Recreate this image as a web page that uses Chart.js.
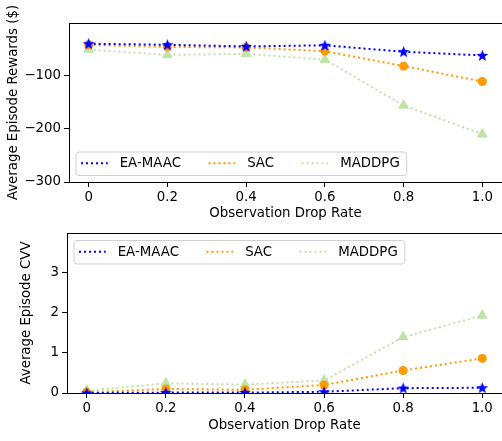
<!DOCTYPE html>
<html>
<head>
<meta charset="utf-8">
<script src="https://cdn.jsdelivr.net/npm/chart.js@4"></script>
<style>
  body { margin: 0; background: #fff; }
  #wrap { position: relative; width: 502px; height: 441px; }
  #rewardChart { position: absolute; left: 0; top: 0; }
  #cvvChart { position: absolute; left: 0; top: 220px; }
</style>
</head>
<body>
<div id="wrap">
  <canvas id="rewardChart" width="502" height="220"></canvas>
  <canvas id="cvvChart" width="502" height="221"></canvas>
</div>
<script>
const dropRates = [0, 0.2, 0.4, 0.6, 0.8, 1.0];
const xTickLabels = ["0", "0.2", "0.4", "0.6", "0.8", "1.0"];
const seriesNames = ["EA-MAAC", "SAC", "MADDPG"];

const rewardEaMaac = [-40, -42, -45, -43, -55, -62];
const rewardSac = [-42, -46, -47, -54, -82, -111];
const rewardMaddpg = [-51, -61, -59, -70, -156, -210];
const rewardTicks = [-300, -200, -100];

const cvvEaMaac = [0.0, 0.01, 0.01, 0.03, 0.12, 0.13];
const cvvSac = [0.02, 0.1, 0.08, 0.2, 0.56, 0.86];
const cvvMaddpg = [0.06, 0.24, 0.21, 0.31, 1.39, 1.93];
const cvvTicks = [0, 1, 2, 3];

const FONT = "'DejaVu Sans', sans-serif";
const colors = ["#0000ff", "#ff9a00", "#bfe3a8"];

// filled five-point star marker (chart.js "star" is only strokes)
function makeStar(color) {
  const c = document.createElement("canvas");
  c.width = 13;
  c.height = 13;
  const g = c.getContext("2d");
  g.fillStyle = color;
  g.beginPath();
  for (let i = 0; i < 10; i++) {
    const r = i % 2 === 0 ? 6.2 : 2.6;
    const a = -Math.PI / 2 + (i * Math.PI) / 5;
    g.lineTo(6.5 + r * Math.cos(a), 6.9 + r * Math.sin(a));
  }
  g.closePath();
  g.fill();
  return c;
}
const starImg = makeStar(colors[0]);

function pts(values) {
  return values.map((v, i) => ({ x: dropRates[i], y: v }));
}

function makeDatasets(a, b, c) {
  const base = {
    borderWidth: 2,
    borderDash: [2, 3],
    borderCapStyle: "butt",
    fill: false,
    tension: 0,
  };
  return [
    { ...base, label: seriesNames[0], data: pts(a), borderColor: colors[0], backgroundColor: colors[0],
      pointStyle: starImg, pointRadius: 6 },
    { ...base, label: seriesNames[1], data: pts(b), borderColor: colors[1], backgroundColor: colors[1],
      pointStyle: "circle", pointRadius: 4.5, pointBorderWidth: 0 },
    { ...base, label: seriesNames[2], data: pts(c), borderColor: colors[2], backgroundColor: colors[2],
      pointStyle: "triangle", pointRadius: 6.5, pointBorderWidth: 0 },
  ];
}

// box around the axes plus a matplotlib style legend inside it
const framePlugin = {
  id: "frame",
  afterDraw(chart, args, opts) {
    const ctx = chart.ctx;
    const a = chart.chartArea;
    ctx.save();
    ctx.strokeStyle = "#000";
    ctx.lineWidth = 1;
    ctx.setLineDash([]);
    ctx.strokeRect(Math.round(a.left) + 0.5, Math.round(a.top) + 0.5,
      Math.round(a.right - a.left), Math.round(a.bottom - a.top));

    ctx.font = "13.33px " + FONT;
    const lineLen = 26.7, gap = 12, colSpace = 27.5, pad = 5.5, h = 23.5;
    const items = chart.data.datasets;
    let w = pad * 2 + 1;
    items.forEach((d, i) => {
      w += lineLen + gap + ctx.measureText(d.label).width;
      if (i < items.length - 1) w += colSpace;
    });
    const bx = a.left + opts.dx;
    const by = opts.corner === "bottom" ? a.bottom - opts.dy - h : a.top + opts.dy;
    ctx.beginPath();
    ctx.roundRect(bx + 0.5, by + 0.5, w, h, 3);
    ctx.fillStyle = "rgba(255,255,255,0.8)";
    ctx.fill();
    ctx.strokeStyle = "#d0d0d0";
    ctx.stroke();

    let x = bx + pad;
    const cy = by + h / 2;
    items.forEach((d) => {
      ctx.beginPath();
      ctx.setLineDash(d.borderDash);
      ctx.lineWidth = d.borderWidth;
      ctx.strokeStyle = d.borderColor;
      ctx.moveTo(x, cy);
      ctx.lineTo(x + lineLen, cy);
      ctx.stroke();
      ctx.setLineDash([]);
      x += lineLen + gap;
      ctx.fillStyle = "#000";
      ctx.textBaseline = "middle";
      ctx.fillText(d.label, x, cy + 0.5);
      x += ctx.measureText(d.label).width + colSpace;
    });
    ctx.restore();
  },
};

function makeChart(canvas, datasets, cfg) {
  return new Chart(canvas, {
    type: "line",
    data: { datasets: datasets },
    plugins: [framePlugin],
    options: {
      responsive: false,
      animation: false,
      layout: { autoPadding: false, padding: { top: cfg.top, right: 0, bottom: 0, left: 0 } },
      plugins: {
        legend: { display: false },
        tooltip: { enabled: false },
        frame: { corner: cfg.legendCorner, dx: 6.5, dy: 7 },
      },
      scales: {
        x: {
          type: "linear",
          min: -0.05,
          max: 1.05,
          afterBuildTicks: (axis) => { axis.ticks = dropRates.map((v) => ({ value: v })); },
          afterFit: (axis) => {
            axis.height = cfg.xHeight;
            axis.paddingLeft = 0;
            axis.paddingRight = 0;
          },
          ticks: {
            callback: (v, i) => xTickLabels[i],
            color: "#000",
            font: { family: FONT, size: 13.33 },
            padding: 3,
            maxRotation: 0,
          },
          grid: { drawOnChartArea: false, drawTicks: true, tickLength: 5, color: "#000" },
          border: { display: false },
          title: {
            display: true,
            text: "Observation Drop Rate",
            color: "#000",
            font: { family: FONT, size: 13.33, lineHeight: 1.2 },
            padding: { top: 0, bottom: cfg.xTitlePad },
          },
        },
        y: {
          min: cfg.yMin,
          max: cfg.yMax,
          afterBuildTicks: (axis) => { axis.ticks = cfg.yTicks.map((v) => ({ value: v })); },
          afterFit: (axis) => {
            axis.width = cfg.yWidth;
            axis.paddingTop = 0;
            axis.paddingBottom = 0;
          },
          ticks: {
            callback: (v) => String(v).replace("-", "\u2212"),
            color: "#000",
            font: { family: FONT, size: 13.33 },
            padding: 3,
          },
          grid: { drawOnChartArea: false, drawTicks: true, tickLength: 5, color: "#000" },
          border: { display: false },
          title: {
            display: true,
            text: cfg.yTitle,
            color: "#000",
            font: { family: FONT, size: 13.33, lineHeight: 1.2 },
            padding: { top: cfg.yTitlePad, bottom: 0 },
          },
        },
      },
    },
  });
}

makeChart(document.getElementById("rewardChart"),
  makeDatasets(rewardEaMaac, rewardSac, rewardMaddpg), {
    top: 23, xHeight: 38, yWidth: 69, xTitlePad: -2, yTitlePad: 6,
    yMin: -300, yMax: -1, yTicks: rewardTicks,
    yTitle: "Average Episode Rewards ($)", legendCorner: "bottom",
  });

makeChart(document.getElementById("cvvChart"),
  makeDatasets(cvvEaMaac, cvvSac, cvvMaddpg), {
    top: 13, xHeight: 48, yWidth: 67, xTitlePad: 7, yTitlePad: 19,
    yMin: 0, yMax: 3.98, yTicks: cvvTicks,
    yTitle: "Average Episode CVV", legendCorner: "top",
  });
</script>
</body>
</html>
